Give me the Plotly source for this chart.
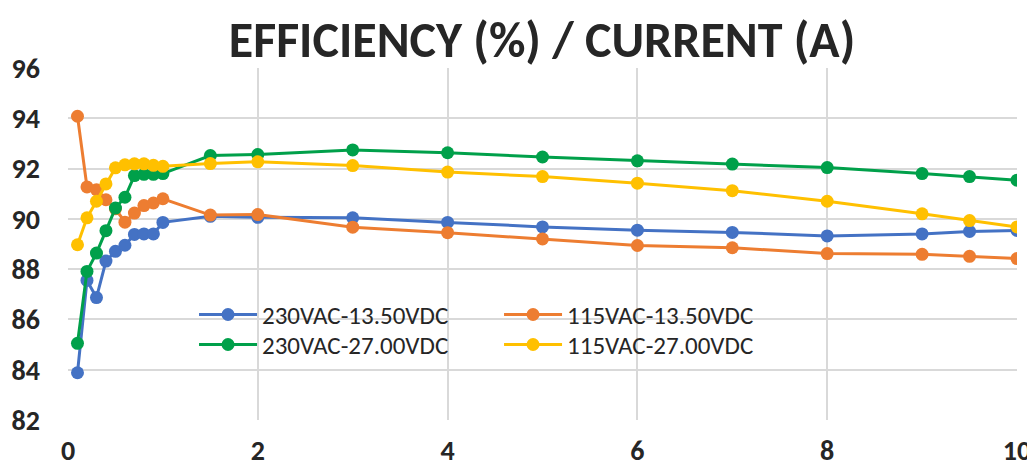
import plotly.graph_objects as go

x_vals = [0.1, 0.2, 0.3, 0.4, 0.5, 0.6, 0.7, 0.8, 0.9, 1.0, 1.5, 2, 3, 4, 5, 6, 7, 8, 9, 9.5, 10]

s_230_1350 = [83.88, 87.55, 86.87, 88.32, 88.71, 88.95, 89.38, 89.40, 89.40, 89.86, 90.10, 90.06,
              90.04, 89.86, 89.68, 89.55, 89.46, 89.32, 89.40, 89.50, 89.54]
s_115_1350 = [94.08, 91.27, 91.16, 90.76, 90.40, 89.87, 90.23, 90.53, 90.63, 90.80, 90.15, 90.17,
              89.67, 89.45, 89.20, 88.94, 88.85, 88.62, 88.59, 88.51, 88.42]
s_230_2700 = [85.05, 87.91, 88.64, 89.53, 90.43, 90.86, 91.72, 91.77, 91.77, 91.80, 92.52, 92.56,
              92.74, 92.63, 92.46, 92.31, 92.18, 92.04, 91.80, 91.68, 91.54]
s_115_2700 = [88.97, 90.04, 90.70, 91.39, 92.03, 92.15, 92.19, 92.19, 92.13, 92.09, 92.20, 92.27,
              92.12, 91.86, 91.68, 91.42, 91.12, 90.70, 90.20, 89.93, 89.68]

series_names = ["230VAC-13.50VDC", "115VAC-13.50VDC", "230VAC-27.00VDC", "115VAC-27.00VDC"]
series_vals = [s_230_1350, s_115_1350, s_230_2700, s_115_2700]
colors = ["#4472C4", "#ED7D31", "#00A04A", "#FFC000"]
legend_ids = ["legend", "legend2", "legend3", "legend4"]

x_ticks = [0, 2, 4, 6, 8, 10]
y_ticks = [82, 84, 86, 88, 90, 92, 94, 96]

FONT = "Carlito, Calibri, Roboto, sans-serif"
TXT = "#262626"

fig = go.Figure()
for i, (name, vals, col, lg) in enumerate(zip(series_names, series_vals, colors, legend_ids)):
    fig.add_trace(go.Scatter(
        x=x_vals, y=vals, name=name, mode="lines+markers",
        line=dict(color=col, width=3),
        marker=dict(color=col, size=13),
        legend=lg,
    ))

legend_common = dict(orientation="v", yanchor="top", xanchor="left",
                     itemwidth=58, bgcolor="rgba(0,0,0,0)",
                     font=dict(family=FONT, size=25, color=TXT))
col_x = [0.1328, 0.4542]
row_y = [0.3643, 0.2791]

fig.update_layout(
    width=1027, height=460,
    margin=dict(l=60, r=18, t=60, b=48),
    paper_bgcolor="white", plot_bgcolor="white",
    title=dict(text="<b>EFFICIENCY (%) / CURRENT (A)</b>", x=0.52, xanchor="center",
               y=0.931, yanchor="middle",
               font=dict(family=FONT, size=50, color=TXT)),
    font=dict(family=FONT, color=TXT),
    showlegend=True,
    legend=dict(x=col_x[0], y=row_y[0], **legend_common),
    legend2=dict(x=col_x[1], y=row_y[0], **legend_common),
    legend3=dict(x=col_x[0], y=row_y[1], **legend_common),
    legend4=dict(x=col_x[1], y=row_y[1], **legend_common),
)
fig.update_xaxes(range=[0, 10], tickvals=x_ticks, ticktext=[f"<b>{t}</b>" for t in x_ticks],
                 showgrid=True, gridcolor="#D9D9D9", gridwidth=1.5,
                 zeroline=False, showline=False, ticks="", automargin=False,
                 tickfont=dict(family=FONT, size=28, color=TXT), ticklabelstandoff=11)
fig.update_yaxes(range=[82, 96], tickvals=y_ticks, ticktext=[f"<b>{t}</b>" for t in y_ticks],
                 showgrid=True, gridcolor="#D9D9D9", gridwidth=1.5,
                 zeroline=False, showline=False, ticks="", automargin=False,
                 tickfont=dict(family=FONT, size=28, color=TXT), ticklabelstandoff=27)

fig.write_html("out.html")
